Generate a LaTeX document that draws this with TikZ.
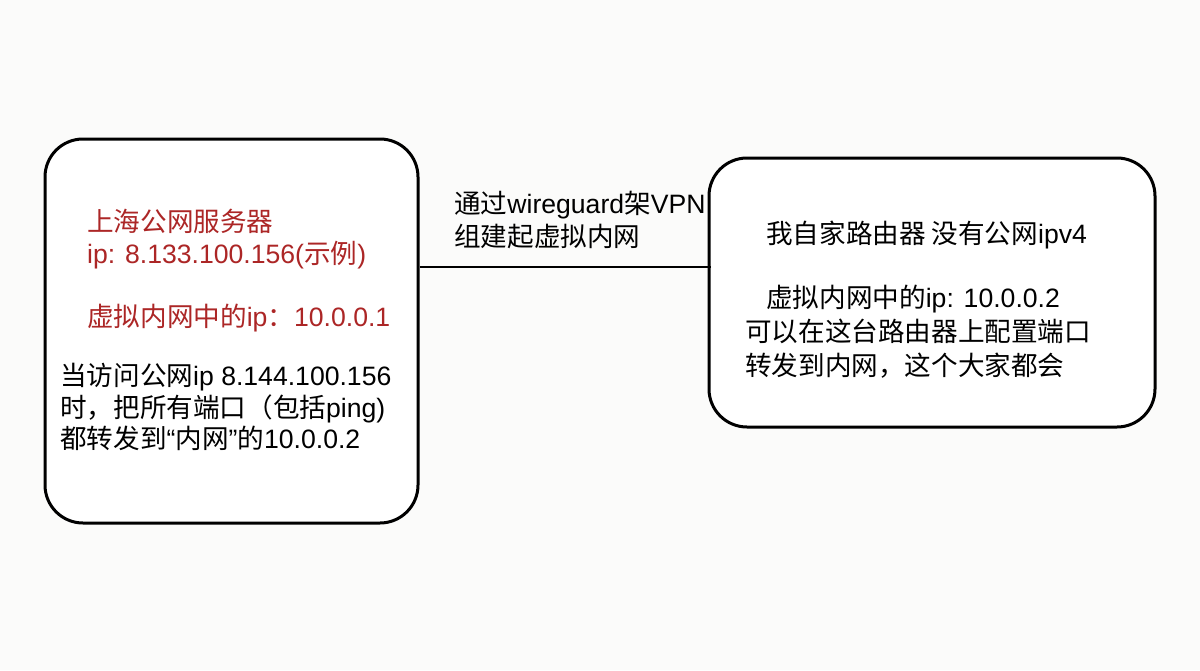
\documentclass[tikz,border=0pt]{standalone}
\usepackage{fontspec}
\setmainfont{Liberation Sans}
\newfontfamily\cjk{Noto Sans CJK SC}
\newcommand{\zh}[1]{{\cjk #1}}
\definecolor{redtxt}{RGB}{172,38,38}
\definecolor{bgcol}{RGB}{251,251,250}
\tikzset{
  box/.style={draw=black, line width=3pt, rounded corners=38pt, fill=white, inner sep=0},
  txt/.style={anchor=base west, inner sep=0, font=\fontsize{26.6}{30}\selectfont, text=black},
  redt/.style={txt, text=redtxt},
  link/.style={draw=black, line width=2.6pt}
}
\begin{document}
\begin{tikzpicture}[x=1pt,y=-1pt]
\fill[bgcol] (0,0) rectangle (1200,670);
\useasboundingbox (0,0) rectangle (1200,670);
\node[box, minimum width=373pt, minimum height=384pt] (L) at (231.5,331) {};
\node[box, minimum width=446pt, minimum height=269pt] (R) at (932,292.5) {};
\coordinate (m) at (0,267);
\draw[link] (L.east |- m) -- ([xshift=3pt]R.west |- m);
% left box
\node[redt] (a1) at (87,231) {\zh{上海公网服务器}};
\node[redt] (a2) at (87,263) {ip: 8.133.100.156(\zh{示例})};
\node[redt] (a3) at (87,326) {\zh{虚拟内网中的}ip\zh{：}10.0.0.1};
\node[txt] (b1) at (60,385) {\zh{当访问公网}ip 8.144.100.156};
\node[txt] (b2) at (60,417) {\zh{时，把所有端口（包括}ping)};
\node[txt] (b3) at (60,448) {\zh{都转发到}“\zh{内网}”\zh{的}10.0.0.2};
% link label
\node[txt] (c1) at (454,213) {\zh{通过}wireguard\zh{架}VPN};
\node[txt] (c2) at (454,246) {\zh{组建起虚拟内网}};
% right box
\node[txt] (d1) at (766,243) {\zh{我自家路由器 没有公网}ipv4};
\node[txt] (d2) at (766,307) {\zh{虚拟内网中的}ip: 10.0.0.2};
\node[txt] (d3) at (745,341) {\zh{可以在这台路由器上配置端口}};
\node[txt] (d4) at (745,375) {\zh{转发到内网，这个大家都会}};
\end{tikzpicture}
\end{document}
